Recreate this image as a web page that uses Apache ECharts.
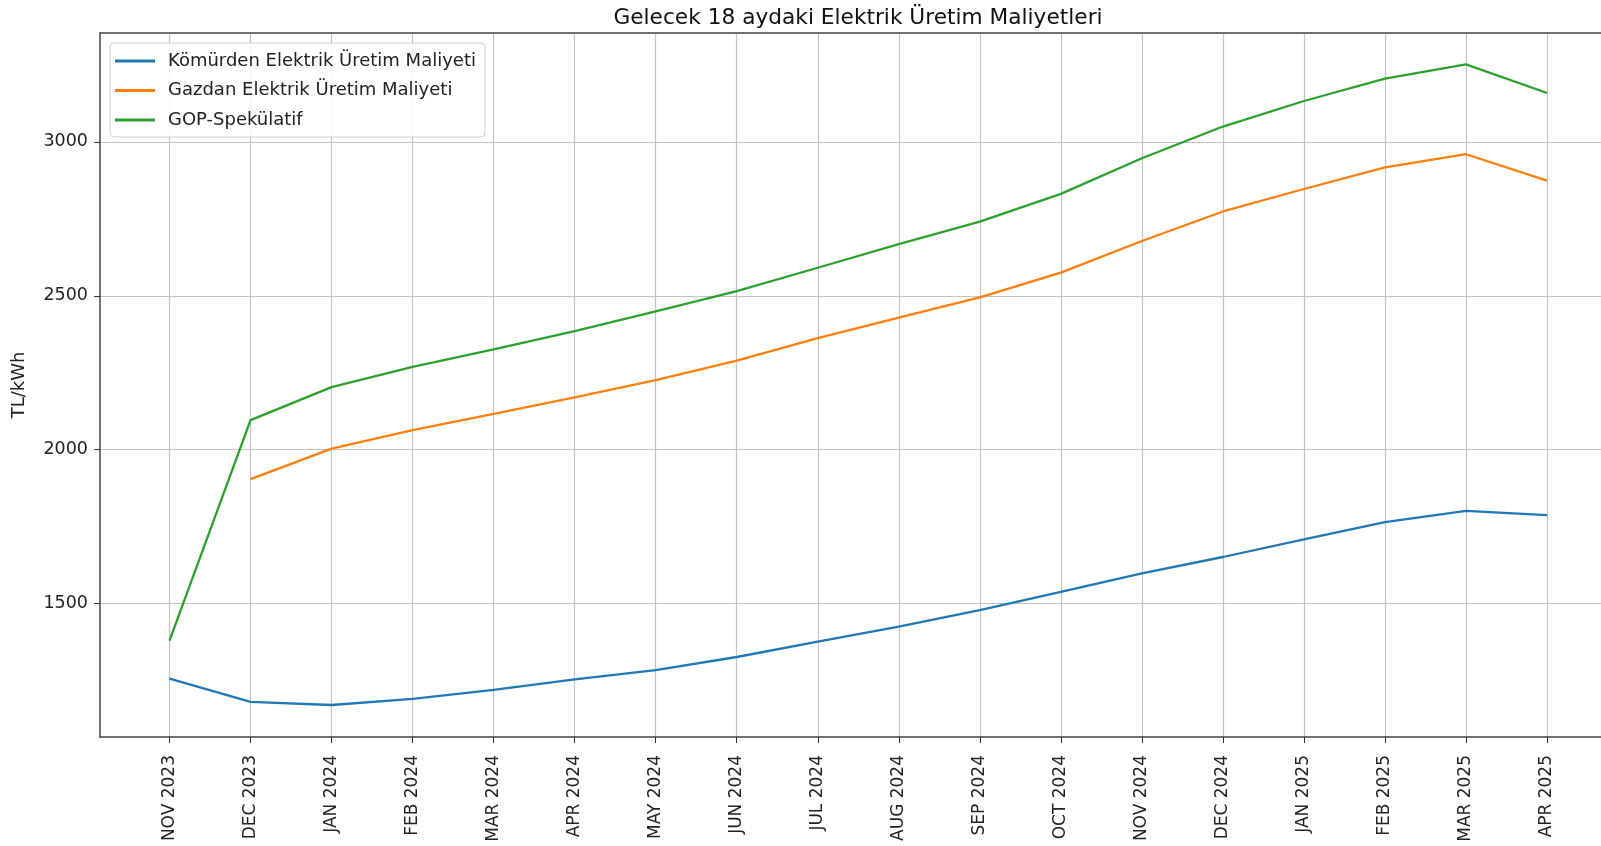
<!DOCTYPE html>
<html>
<head>
<meta charset="utf-8">
<script src="https://cdn.jsdelivr.net/npm/echarts@6/dist/echarts.min.js"></script>
<style>
html,body{margin:0;padding:0;background:#fff;}
#c{width:1601px;height:846px;}
</style>
</head>
<body>
<div id="c"></div>
<script>
const categories = ['NOV 2023','DEC 2023','JAN 2024','FEB 2024','MAR 2024','APR 2024','MAY 2024','JUN 2024','JUL 2024','AUG 2024','SEP 2024','OCT 2024','NOV 2024','DEC 2024','JAN 2025','FEB 2025','MAR 2025','APR 2025'];
const komur = [1256,1180,1170,1190,1219,1253,1283,1326,1376,1425,1478,1538,1598,1651,1708,1764,1801,1787];
const gaz = [null,1904,2003,2063,2116,2170,2226,2289,2362,2429,2495,2575,2678,2774,2847,2917,2960,2874];
const gop = [1379,2096,2203,2269,2326,2385,2449,2515,2591,2668,2741,2831,2947,3050,3133,3206,3252,3159];
const yTicks = [1500,2000,2500,3000];
const seriesNames = ['Kömürden Elektrik Üretim Maliyeti','Gazdan Elektrik Üretim Maliyeti','GOP-Spekülatif'];
const colors = ['#1f77b4','#ff7f0e','#2ca02c'];

const idx = categories.map((_, i) => i);
const toPts = arr => arr.map((v, i) => [i, v]);
const FONT = 'DejaVu Sans';
const X_MIN = -0.858, X_MAX = 17.666;

const chart = echarts.init(document.getElementById('c'));
chart.setOption({
  animation: false,
  textStyle: {fontFamily: FONT},
  title: {
    text: 'Gelecek 18 aydaki Elektrik Üretim Maliyetleri',
    left: 853, top: 2, textAlign: 'center',
    textStyle: {fontFamily: FONT, fontSize: 21.7, fontWeight: 'normal', color: '#111'}
  },
  legend: {
    orient: 'vertical', left: 110, top: 43,
    padding: [9, 9, 8, 5], itemGap: 11.5, itemWidth: 40, itemHeight: 3, icon: 'rect',
    backgroundColor: 'rgba(255,255,255,0.85)', borderColor: '#d0d0d0', borderWidth: 1, borderRadius: 4,
    textStyle: {fontFamily: FONT, fontSize: 18, lineHeight: 18, color: '#222', padding: [0,0,0,8]},
    data: seriesNames
  },
  grid: {left: 100, right: 0, top: 33, bottom: 109},
  xAxis: [{
    type: 'value', min: X_MIN, max: X_MAX, position: 'bottom',
    axisLine: {show: true, onZero: false, lineStyle: {color: '#444', width: 1.5}},
    axisTick: {show: true, length: 6, customValues: idx, lineStyle: {color: '#333'}},
    axisLabel: {customValues: idx, rotate: 90, margin: 18, fontSize: 17, color: '#222', fontFamily: FONT,
      formatter: v => categories[Math.round(v)] || ''},
    splitLine: {show: true, lineStyle: {color: '#c4c4c4', width: 1.2}}
  }, {
    type: 'value', min: X_MIN, max: X_MAX, position: 'top',
    axisLine: {show: true, onZero: false, lineStyle: {color: '#444', width: 1.5}},
    axisTick: {show: false}, axisLabel: {show: false}, splitLine: {show: false}
  }],
  yAxis: {
    type: 'value', min: 1066, max: 3354,
    name: 'TL/kWh', nameLocation: 'middle', nameGap: 72, nameRotate: 90,
    nameTextStyle: {fontFamily: FONT, fontSize: 18, color: '#222'},
    axisLine: {show: true, onZero: false, lineStyle: {color: '#444', width: 1.5}},
    axisTick: {show: true, length: 6, customValues: yTicks, lineStyle: {color: '#333'}},
    axisLabel: {customValues: yTicks, margin: 12, fontSize: 17.5, color: '#222', fontFamily: FONT,
      formatter: v => String(v)},
    splitLine: {show: true, lineStyle: {color: '#c4c4c4', width: 1.2}}
  },
  series: [komur, gaz, gop].map((arr, k) => ({
    name: seriesNames[k], type: 'line', data: toPts(arr), symbol: 'none', xAxisIndex: 0,
    lineStyle: {color: colors[k], width: 2.3}, itemStyle: {color: colors[k]},
    connectNulls: false
  }))
});
</script>
</body>
</html>
